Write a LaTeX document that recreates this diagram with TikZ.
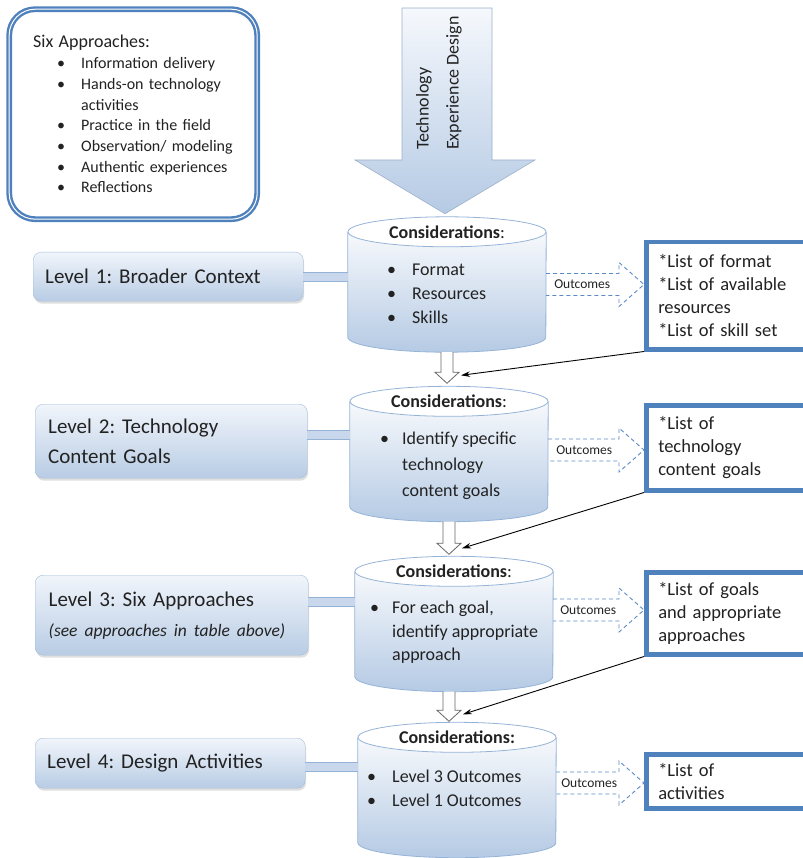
\documentclass[tikz,border=0pt]{standalone}
\usepackage{fontspec}
\setmainfont{Carlito}
\usepackage{tikz}
\usetikzlibrary{calc, arrows.meta, shadows}
\tikzset{>=Stealth}
\frenchspacing
\definecolor{boxblue}{HTML}{4F81BD}
\definecolor{lvltop}{HTML}{F1F5FB}
\definecolor{lvlbot}{HTML}{B8CCE4}
\definecolor{lvledge}{HTML}{A5BDDB}
\definecolor{cylbot}{HTML}{B5CAE4}
\definecolor{cyledge}{HTML}{95B3D7}
\definecolor{pipefill}{HTML}{C8D7EC}
\definecolor{dashblue}{HTML}{5B8AC6}
\definecolor{textgray}{HTML}{222222}

\newcommand{\itm}[1][20pt]{\makebox[#1][l]{\textbullet}}
\newcommand{\cylbody}[1]{%
  \shade[top color=white, bottom color=cylbot] ([yshift=-15]#1.north west) -- ([yshift=15]#1.south west)
    arc[start angle=180, end angle=360, x radius=99pt, y radius=15pt] -- ([yshift=-15]#1.north east)
    arc[start angle=0, end angle=180, x radius=99pt, y radius=15pt] -- cycle;
  \draw[cyledge, line width=0.8pt] ([yshift=-15]#1.north west) -- ([yshift=15]#1.south west)
    arc[start angle=180, end angle=360, x radius=99pt, y radius=15pt] -- ([yshift=-15]#1.north east);
  \draw[cyledge, line width=0.8pt, fill=white] ([yshift=-15]#1.north) ellipse [x radius=99pt, y radius=15pt];
}

\tikzset{
  sixbox/.style={draw=boxblue, double=white, double distance=1pt, line width=2.4pt, rounded corners=26pt,
    fill=white, anchor=north west, minimum width=248pt, minimum height=210pt, text width=200pt,
    align=left, inner xsep=22pt, text=textgray, font=\fontsize{16}{20.7}\selectfont},
  lvlbox/.style={rectangle, rounded corners=8pt, draw=lvledge, top color=lvltop, bottom color=lvlbot,
    anchor=north west, align=left, inner xsep=12pt, text width=246pt, text=textgray,
    font=\fontsize{21}{30}\selectfont, drop shadow={opacity=0.25, shadow xshift=1pt, shadow yshift=-2.5pt}},
  cylnode/.style={rectangle, minimum width=198pt, minimum height=135pt, inner sep=0pt},
  cyltitle/.style={font=\fontsize{18}{20}\selectfont\bfseries, text=textgray, inner sep=0pt},
  cylitems/.style={anchor=west, align=left, inner sep=0pt, text=textgray},
  listbox/.style={draw=boxblue, line width=4.5pt, fill=white, anchor=north west, align=left,
    text width=150pt, inner xsep=12pt, text=textgray, font=\fontsize{18.5}{23}\selectfont},
  dashout/.style={draw=dashblue, dash pattern=on 4pt off 3pt, line width=0.9pt},
  outtext/.style={font=\fontsize{13.5}{15}\selectfont, text=textgray, inner sep=0pt},
  pipe/.style={draw=cyledge, line width=0.8pt, double=pipefill, double distance=8pt},
  hollow/.style={draw=black!60, fill=white, line width=0.8pt},
  pointer/.style={-{Stealth[length=9pt,width=5.5pt]}, line width=0.9pt, black},
  bigarrow/.style={top color=lvltop!70!white, bottom color=cylbot, draw=lvledge!80!gray, line width=0.6pt}
}

\begin{document}
\begin{tikzpicture}[x=1pt, y=1pt]
\useasboundingbox (0,0) rectangle (802,-858);

% approaches table
\node[sixbox] (six) at (8,-8) {{\fontsize{18}{20}\selectfont Six Approaches:}\\
  \hspace*{24pt}\itm[24pt]Information delivery\\
  \hspace*{24pt}\itm[24pt]Hands-on technology\\
  \hspace*{48pt}activities\\
  \hspace*{24pt}\itm[24pt]Practice in the field\\
  \hspace*{24pt}\itm[24pt]Observation/ modeling\\
  \hspace*{24pt}\itm[24pt]Authentic experiences\\
  \hspace*{24pt}\itm[24pt]Reflections};

% considerations
\node[cylnode] (c1) at (447,-284.5) {};
\node[cylnode] (c2) at (449,-454) {};
\node[cylnode] (c3) at (454,-624) {};
\node[cylnode] (c4) at (457,-790) {};
\cylbody{c1}
\cylbody{c2}
\cylbody{c3}
\cylbody{c4}

\shade[bigarrow] (402,-8) -- (492,-8) -- (492,-160) -- (535,-160) -- ([xshift=-2,yshift=3]c1.north)
  -- (355,-160) -- (402,-160) -- cycle;
\node[rotate=90, anchor=west, align=left, inner sep=0pt, text=textgray,
  font=\fontsize{18}{30}\selectfont] (ted) at (439,-150) {Technology\\Experience Design};

\node[cyltitle] (k1) at ([yshift=-15]c1.north) {Considerations\textmd{:}};
\node[cyltitle] (k2) at ([yshift=-15]c2.north) {Considerations\textmd{:}};
\node[cyltitle] (k3) at ([yshift=-15]c3.north) {Considerations\textmd{:}};
\node[cyltitle] (k4) at ([yshift=-15]c4.north) {Considerations:};

\node[cylitems, font=\fontsize{18}{24}\selectfont] (i1) at (387,-294)
  {\itm[25pt]Format\\ \itm[25pt]Resources\\ \itm[25pt]Skills};
\node[cylitems, font=\fontsize{18}{26}\selectfont] (i2) at (380,-466)
  {\itm[22pt]Identify specific\\ \hspace*{22pt}technology\\ \hspace*{22pt}content goals};
\node[cylitems, font=\fontsize{18}{23.5}\selectfont] (i3) at (370,-632.5)
  {\itm[22pt]For each goal,\\ \hspace*{22pt}identify appropriate\\ \hspace*{22pt}approach};
\node[cylitems, font=\fontsize{18}{23.5}\selectfont] (i4) at (367,-788.5)
  {\itm[25pt]Level 3 Outcomes\\ \itm[25pt]Level 1 Outcomes};

% levels
\node[lvlbox, minimum width=270pt, minimum height=49pt] (l1) at (33,-252) {Level 1: Broader Context};
\node[lvlbox, minimum width=272pt, minimum height=74pt] (l2) at (35,-404) {Level 2: Technology\\Content Goals};
\node[lvlbox, minimum width=273pt, minimum height=80pt] (l3) at (35,-575)
  {Level 3: Six Approaches\\{\itshape\fontsize{17.5}{20}\selectfont (see approaches in table above)}};
\node[lvlbox, minimum width=270pt, minimum height=50pt] (l4) at (35,-738) {Level 4: Design Activities};

\draw[pipe] (l1.east) -- (l1.east -| c1.west);
\draw[pipe] ([yshift=6]l2.east) -- ([yshift=6]l2.east -| c2.west);
\draw[pipe] ([yshift=13]l3.east) -- ([yshift=13]l3.east -| c3.west);
\draw[pipe] ([yshift=-4]l4.east) -- ([yshift=-4]l4.east -| c4.west);

% outcome lists
\node[listbox, minimum height=107pt] (r1) at (644,-240)
  {*List of format\\{*}List of available\\resources\\{*}List of skill set};
\node[listbox, minimum height=85pt] (r2) at (644,-403) {*List of\\technology\\content goals};
\node[listbox, minimum height=82pt] (r3) at (644,-570) {*List of goals\\and appropriate\\approaches};
\node[listbox, minimum height=54pt] (r4) at (644,-752) {*List of\\activities};

\coordinate (oc1) at (c1.east);
\coordinate (oc2) at ([yshift=4]c2.east);
\coordinate (oc3) at ([yshift=14]c3.east);
\coordinate (oc4) at ([yshift=7]c4.east);
\draw[dashout] ([yshift=11]oc1) -- ([xshift=-25,yshift=11]oc1 -| r1.west) -- ++(0,11) -- (oc1 -| r1.west)
  -- ++(-25,-22) -- ++(0,11) -- ([yshift=-11]oc1);
\draw[dashout] ([yshift=11]oc2) -- ([xshift=-25,yshift=11]oc2 -| r2.west) -- ++(0,11) -- (oc2 -| r2.west)
  -- ++(-25,-22) -- ++(0,11) -- ([yshift=-11]oc2);
\draw[dashout] ([yshift=11]oc3) -- ([xshift=-25,yshift=11]oc3 -| r3.west) -- ++(0,11) -- (oc3 -| r3.west)
  -- ++(-25,-22) -- ++(0,11) -- ([yshift=-11]oc3);
\draw[dashout] ([yshift=11]oc4) -- ([xshift=-25,yshift=11]oc4 -| r4.west) -- ++(0,11) -- (oc4 -| r4.west)
  -- ++(-25,-22) -- ++(0,11) -- ([yshift=-11]oc4);
\node[outtext] (out1) at ([xshift=36]oc1) {Outcomes};
\node[outtext] (out2) at ([xshift=36]oc2) {Outcomes};
\node[outtext] (out3) at ([xshift=35]oc3) {Outcomes};
\node[outtext] (out4) at ([xshift=33]oc4) {Outcomes};

% level to level
\draw[hollow] ([xshift=-6]c1.south) -- ([xshift=-6,yshift=14]c1.south |- c2.north) -- ++(-6,0)
  -- ([yshift=3]c1.south |- c2.north) -- ++(12,11) coordinate (h1) -- ++(-6,0) -- ([xshift=6]c1.south);
\draw[hollow] ([xshift=-6]c2.south) -- ([xshift=-6,yshift=13]c2.south |- c3.north) -- ++(-6,0)
  -- ([yshift=2]c2.south |- c3.north) -- ++(12,11) coordinate (h2) -- ++(-6,0) -- ([xshift=6]c2.south);
\draw[hollow] ([xshift=-11]c3.south) -- ([xshift=-11,yshift=12]c3.south |- c4.north) -- ++(-6,0)
  -- ([xshift=-5,yshift=1]c3.south |- c4.north) -- ++(12,11) coordinate (h3) -- ++(-6,0) -- ([xshift=1]c3.south);

\draw[pointer] (r1.south west) -- ([xshift=2,yshift=-3]h1);
\draw[pointer] (r2.south west) -- ([xshift=1,yshift=-5]h2);
\draw[pointer] (r3.south west) -- ([xshift=2,yshift=-4]h3);
\end{tikzpicture}
\end{document}
